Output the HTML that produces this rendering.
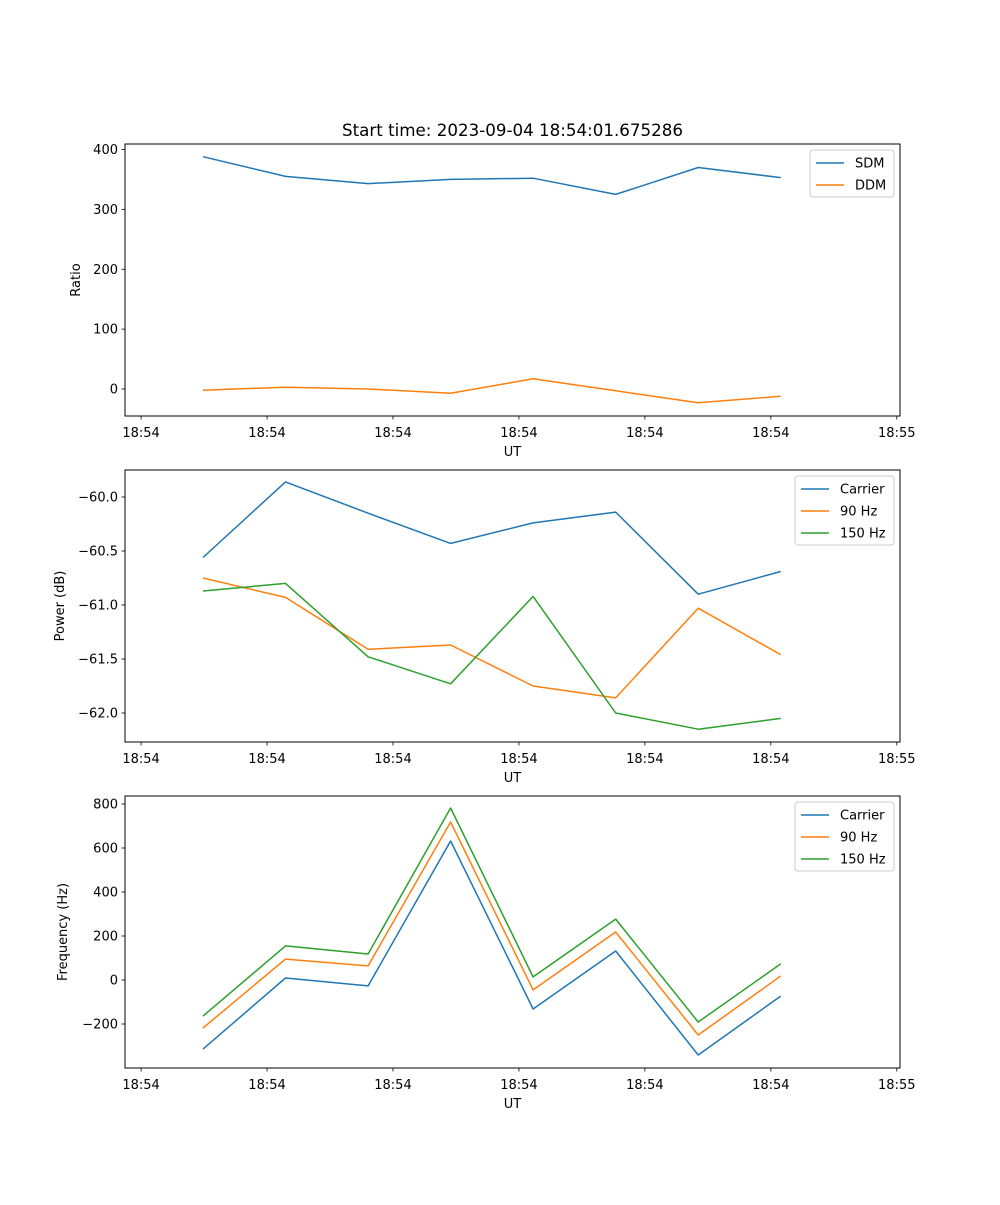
<!DOCTYPE html>
<html><head><meta charset="utf-8"><style>
body{margin:0;background:#fff}
svg text{font-family:"DejaVu Sans","Liberation Sans",sans-serif;fill:#000}
</style></head><body>
<svg id="fig" width="1000" height="1200" xmlns="http://www.w3.org/2000/svg"></svg>
<script>
const tickLabels = ["18:54","18:54","18:54","18:54","18:54","18:54","18:55"];
const sdm = [388,355,343,350,352,325,370,353];
const ddm = [-2,3,0,-7,17,-3,-23,-12];
const pwrCarrier = [-60.56,-59.86,-60.15,-60.43,-60.24,-60.14,-60.90,-60.69];
const pwr90 = [-60.75,-60.93,-61.41,-61.37,-61.75,-61.86,-61.03,-61.46];
const pwr150 = [-60.87,-60.80,-61.48,-61.73,-60.92,-62.0,-62.15,-62.05];
const frqCarrier = [-314,9,-27,632,-132,132,-341,-73];
const frq90 = [-218,95,64,718,-45,218,-250,18];
const frq150 = [-164,155,118,782,14,277,-191,73];
const ratioTicks = [0,100,200,300,400];
const powerTicks = [-62.0,-61.5,-61.0,-60.5,-60.0];
const freqTicks = [-200,0,200,400,600,800];

const NS="http://www.w3.org/2000/svg";
const svg=document.getElementById('fig');
function el(t,a,p){const e=document.createElementNS(NS,t);for(const k in a)e.setAttribute(k,a[k]);(p||svg).appendChild(e);return e;}
const L=125,R=900,X0=-0.945,X1=8.445;
const xs=i=>L+(i-X0)/(X1-X0)*(R-L);
const colors=["#1f77b4","#ff7f0e","#2ca02c"];
const minus=s=>s.replace('-','\u2212');

function panel(name,top,bot,y0v,y0p,y1v,y1p,yTicks,fmt,ylabel,series,names,legend){
  const g=el('g',{});
  
  
  const ys=v=>y0p+(v-y0v)/(y1v-y0v)*(y1p-y0p);
  series.forEach((s,k)=>{
    const pts=s.map((v,i)=>xs(i).toFixed(1)+','+ys(v).toFixed(1)).join(' ');
    const pl=el('polyline',{points:pts,fill:'none',stroke:colors[k],'stroke-width':1.5,'stroke-linejoin':'round'},g);
    
    
  });
  const fr=el('rect',{x:L,y:top,width:R-L,height:bot-top,fill:'none',stroke:'#000','stroke-width':1},g);
  
  
  yTicks.forEach(v=>{const y=ys(v);
    el('line',{x1:L-3.5,x2:L,y1:y,y2:y,stroke:'#000','stroke-width':0.8},g);
    const t=el('text',{x:L-7,y:y+4.5,'text-anchor':'end','font-size':13},g);t.textContent=fmt(v);
    
    
  });
  tickLabels.forEach((lab,k)=>{const x=xs(-0.75+k*1.526);
    el('line',{x1:x,x2:x,y1:bot,y2:bot+3.5,stroke:'#000','stroke-width':0.8},g);
    const t=el('text',{x:x,y:bot+21,'text-anchor':'middle','font-size':13},g);t.textContent=lab;
    
    
  });
  const xl=el('text',{x:(L+R)/2,y:bot+40,'text-anchor':'middle','font-size':13},g);xl.textContent='UT';
  
  
  const yl=el('text',{x:0,y:0,'text-anchor':'middle','font-size':13,transform:`translate(${legend.ylx},${(top+bot)/2}) rotate(-90)`},g);yl.textContent=ylabel;
  
  
  const lg=el('g',{},g);
  
  
  el('rect',{x:legend.x,y:top+6,width:R-6-legend.x,height:names.length*22+3,rx:3,fill:'#fff',stroke:'#ccc','stroke-width':1,'fill-opacity':0.8},lg);
  names.forEach((n,k)=>{const y=top+19+k*22;
    el('line',{x1:legend.x+6,x2:legend.x+34,y1:y,y2:y,stroke:colors[k],'stroke-width':1.5},lg);
    const t=el('text',{x:legend.x+45,y:y+4.5,'font-size':13},lg);t.textContent=n;
    
    
  });
}
const title=el('text',{x:512.5,y:136,'text-anchor':'middle','font-size':16.7});
title.textContent='Start time: 2023-09-04 18:54:01.675286';


panel('ratio-panel',144,416,0,389,400,149.5,ratioTicks,v=>minus(String(v)),'Ratio',[sdm,ddm],['SDM','DDM'],{x:810,ylx:80});
panel('power-panel',470,742,-60,497,-62,713,powerTicks,v=>minus(v.toFixed(1)),'Power (dB)',[pwrCarrier,pwr90,pwr150],['Carrier','90 Hz','150 Hz'],{x:795,ylx:64});
panel('frequency-panel',796,1068,0,980,800,804,freqTicks,v=>minus(String(v)),'Frequency (Hz)',[frqCarrier,frq90,frq150],['Carrier','90 Hz','150 Hz'],{x:795,ylx:67});
</script>
</body></html>
